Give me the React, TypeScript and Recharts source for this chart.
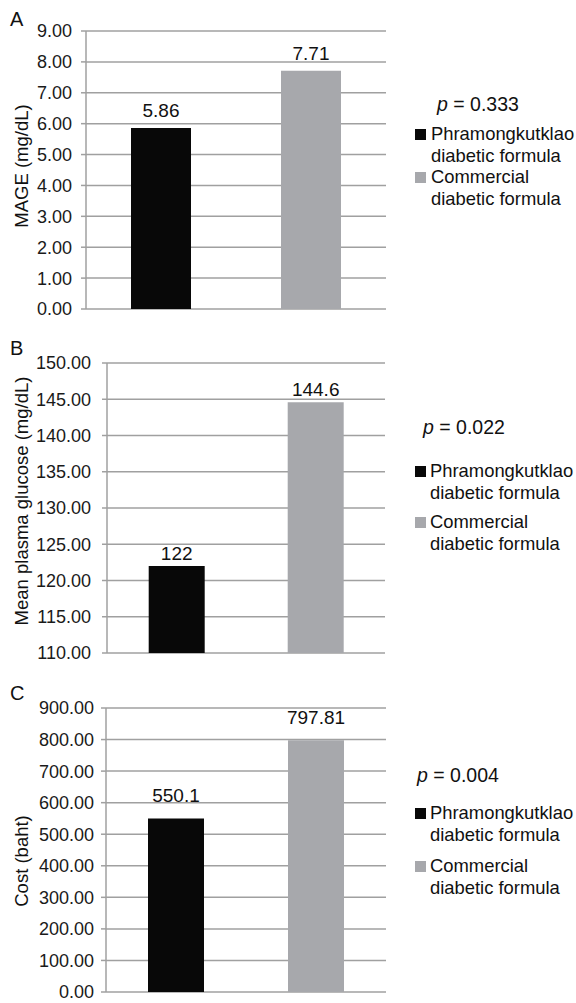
import { BarChart, Bar, XAxis, YAxis, CartesianGrid, Cell, LabelList } from "recharts"

const groups = ["Phramongkutklao diabetic formula", "Commercial diabetic formula"]
const groupColors = ["#080808", "#a7a8ac"]

const mageValues = [5.86, 7.71]
const glucoseValues = [122, 144.6]
const costValues = [550.1, 797.81]

const mageTicks = [0, 1, 2, 3, 4, 5, 6, 7, 8, 9]
const glucoseTicks = [110, 115, 120, 125, 130, 135, 140, 145, 150]
const costTicks = [0, 100, 200, 300, 400, 500, 600, 700, 800, 900]

const pValues = ["0.333", "0.022", "0.004"]

const gridColor = "#a0a0a0"
const font = "'Liberation Sans', Arial, Helvetica, sans-serif"

type Layout = {
  top: number
  height: number
  margin: { top: number; right: number; bottom: number; left: number }
  axisWidth: number
  tickMargin: number
  labelOffset: number
  titleShift: number
  letterY: number
  pX: number
  pY: number
  itemY: number[]
  lineGap: number
  textX: number
}

function Panel({ letter, title, values, ticks, pValue, layout }: {
  letter: string
  title: string
  values: number[]
  ticks: number[]
  pValue: string
  layout: Layout
}) {
  const data = groups.map((name, i) => ({ name, value: values[i] }))

  const renderTitle = (props: any) => {
    const vb = props.viewBox || { y: 0, height: 0 }
    const cy = vb.y + vb.height / 2 + layout.titleShift
    return (
      <text x={21} y={cy} transform={`rotate(-90, 21, ${cy})`} textAnchor="middle"
        dominantBaseline="central" fontSize={18.5} fill="#111">
        {title}
      </text>
    )
  }

  return (
    <div style={{ position: "absolute", left: 0, top: layout.top, width: 576, height: layout.height }}>
      <BarChart width={576} height={layout.height} data={data} margin={layout.margin} barCategoryGap="30%"
        style={{ overflow: "visible" }}>
        <CartesianGrid vertical={false} stroke={gridColor} strokeWidth={1.5} />
        <XAxis dataKey="name" hide />
        <YAxis
          width={layout.axisWidth}
          domain={[ticks[0], ticks[ticks.length - 1]]}
          ticks={ticks}
          interval={0}
          tickFormatter={(v: number) => v.toFixed(2)}
          tick={{ fill: "#1a1a1a", fontSize: 18 }}
          tickSize={5}
          tickMargin={layout.tickMargin}
          axisLine={{ stroke: gridColor, strokeWidth: 1.5 }}
          tickLine={{ stroke: gridColor, strokeWidth: 1.5 }}
          label={renderTitle}
        />
        <Bar dataKey="value" isAnimationActive={false}>
          {data.map((d, i) => (
            <Cell key={d.name} fill={groupColors[i]} />
          ))}
          <LabelList dataKey="value" position="top" offset={layout.labelOffset} fill="#111" fontSize={19} />
        </Bar>
      </BarChart>
      <svg width={576} height={layout.height} style={{ position: "absolute", left: 0, top: 0, pointerEvents: "none" }}>
        <text x={10} y={layout.letterY} fontSize={20} fill="#111">{letter}</text>
        <text x={layout.pX} y={layout.pY} fontSize={19.5} fill="#111">
          <tspan fontStyle="italic">p</tspan> = {pValue}
        </text>
        {groups.map((g, i) => {
          const y = layout.itemY[i]
          const words = g.split(" ")
          return (
            <g key={g}>
              <rect x={415} y={y - 11} width={11} height={11} fill={groupColors[i]} />
              <text x={layout.textX} y={y} fontSize={18.4} fill="#111">{words[0]}</text>
              <text x={layout.textX} y={y + layout.lineGap} fontSize={18.4} fill="#111">
                {words.slice(1).join(" ")}
              </text>
            </g>
          )
        })}
      </svg>
    </div>
  )
}

const layoutA: Layout = {
  top: 0, height: 330, margin: { top: 31, right: 190, bottom: 21, left: 0 }, axisWidth: 86,
  tickMargin: 9, labelOffset: 11, titleShift: -4, letterY: 26,
  pX: 437, pY: 111, itemY: [140, 183], lineGap: 21.5, textX: 431,
}
const layoutB: Layout = {
  top: 330, height: 340, margin: { top: 33, right: 191, bottom: 17, left: 0 }, axisWidth: 107,
  tickMargin: 11, labelOffset: 6, titleShift: -7, letterY: 25,
  pX: 423, pY: 104, itemY: [147, 198], lineGap: 21.5, textX: 430,
}
const layoutC: Layout = {
  top: 670, height: 333, margin: { top: 38, right: 190, bottom: 11, left: 0 }, axisWidth: 106,
  tickMargin: 7, labelOffset: 16, titleShift: 11, letterY: 30,
  pX: 417, pY: 112, itemY: [149, 202], lineGap: 22, textX: 430,
}

export default function App() {
  return (
    <div style={{ position: "absolute", left: 0, top: 0, width: 576, height: 1003, background: "#fff", fontFamily: font }}>
      <Panel letter="A" title="MAGE (mg/dL)" values={mageValues} ticks={mageTicks} pValue={pValues[0]} layout={layoutA} />
      <Panel letter="B" title="Mean plasma glucose (mg/dL)" values={glucoseValues} ticks={glucoseTicks} pValue={pValues[1]} layout={layoutB} />
      <Panel letter="C" title="Cost (baht)" values={costValues} ticks={costTicks} pValue={pValues[2]} layout={layoutC} />
    </div>
  )
}
